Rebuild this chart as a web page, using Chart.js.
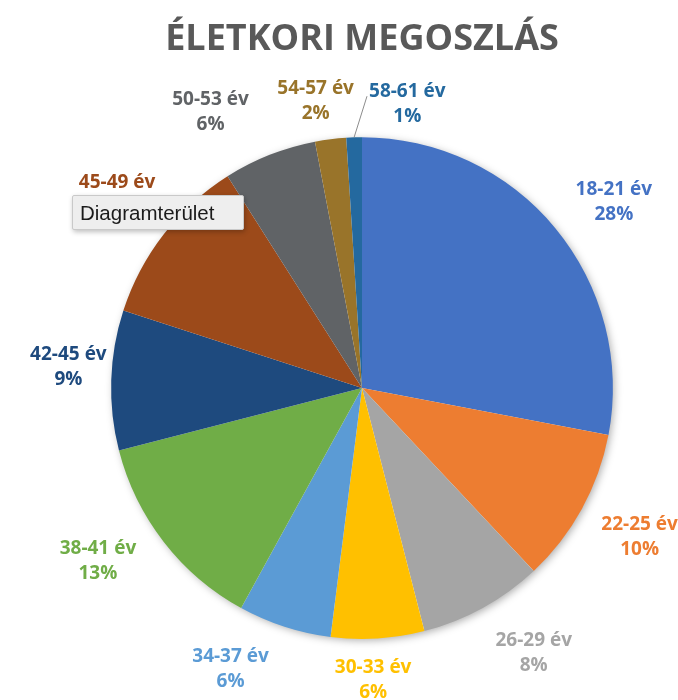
<!DOCTYPE html>
<html>
<head>
<meta charset="utf-8">
<script src="https://cdn.jsdelivr.net/npm/chart.js@4.4.1/dist/chart.umd.min.js"></script>
<style>
  body { margin: 0; background: #fff; }
  #wrap { position: relative; width: 678px; height: 700px; }
  #tip {
    position: absolute; left: 72px; top: 195px; width: 163px; height: 33px;
    background: #eeeeee; border: 1px solid #c9c9c9; border-radius: 2px;
    box-shadow: 1px 2px 5px rgba(0,0,0,0.25);
    font: 20.5px "Liberation Sans", Arial, sans-serif; color: #1b1b1b;
    line-height: 34px; padding-left: 7px; box-sizing: content-box; white-space: nowrap;
  }
</style>
</head>
<body>
<div id="wrap">
  <canvas id="pie"></canvas>
  <div id="tip">Diagramterület</div>
</div>
<script>
// korcsoportok és arányuk (%)
const ageGroups = ["18-21 év", "22-25 év", "26-29 év", "30-33 év", "34-37 év", "38-41 év",
                   "42-45 év", "45-49 év", "50-53 év", "54-57 év", "58-61 év"];
const shares = [28, 10, 8, 6, 6, 13, 9, 11, 6, 2, 1];
const sliceColors = ["#4472C4", "#ED7D31", "#A5A5A5", "#FFC000", "#5B9BD5", "#70AD47",
                     "#1E4A7E", "#9C4A1A", "#606366", "#99742A", "#24699F"];

// címke eltolás (fok, px) - Excel "best fit" utánzása
const labelNudge = [[2.8, 2.4], [-0.9, 4.3], [-4.3, 3.1], [1.4, -6], [7.2, 0], [4.9, 3.2],
                    [2.7, -3.2], [0.8, 0.9], [-7, 6.4], [-1.9, -7.4], [10.8, -11]];

// árnyék a kör alatt
const pieShadow = {
  id: "pieShadow",
  beforeDatasetsDraw(chart) {
    const arc = chart.getDatasetMeta(0).data[0];
    if (!arc) return;
    const ctx = chart.ctx;
    ctx.save();
    ctx.shadowColor = "rgba(0,0,0,0.35)";
    ctx.shadowBlur = 8;
    ctx.shadowOffsetX = 2;
    ctx.shadowOffsetY = 2;
    ctx.fillStyle = "#fff";
    ctx.beginPath();
    ctx.arc(arc.x, arc.y, arc.outerRadius - 1, 0, Math.PI * 2);
    ctx.fill();
    ctx.restore();
  }
};

// külső adatcímkék
const outLabels = {
  id: "outLabels",
  afterDatasetsDraw(chart) {
    const ctx = chart.ctx;
    const meta = chart.getDatasetMeta(0);
    const total = shares.reduce((a, b) => a + b, 0);
    ctx.save();
    ctx.font = "bold 19px 'Open Sans'";
    ctx.textAlign = "center";
    ctx.textBaseline = "middle";
    meta.data.forEach((arc, i) => {
      const mid = (arc.startAngle + arc.endAngle) / 2 + Math.PI / 2;
      const n = labelNudge[i] || [0, 0];
      const t = mid + n[0] * Math.PI / 180;
      const d = arc.outerRadius + 44 + 18 * Math.abs(Math.sin(2 * t)) + n[1];
      const x = arc.x + d * Math.sin(t);
      const y = arc.y - d * Math.cos(t) + 2;
      const pct = Math.round(shares[i] / total * 100) + "%";
      if (i === 10) {
        // vezetővonal
        const w = ctx.measureText(ageGroups[i]).width;
        ctx.strokeStyle = "#8c8c8c";
        ctx.lineWidth = 1;
        ctx.beginPath();
        ctx.moveTo(arc.x + arc.outerRadius * Math.sin(mid), arc.y - arc.outerRadius * Math.cos(mid));
        ctx.lineTo(x - w / 2 - 2, y - 8);
        ctx.stroke();
      }
      ctx.fillStyle = sliceColors[i];
      ctx.fillText(ageGroups[i], x, y - 12.5);
      ctx.fillText(pct, x, y + 12.5);
    });
    ctx.restore();
  }
};

document.addEventListener("DOMContentLoaded", () => {
  const ctx = document.getElementById("pie").getContext("2d");
  new Chart(ctx, {
    type: "pie",
    data: {
      labels: ageGroups,
      datasets: [{
        data: shares,
        backgroundColor: sliceColors,
        borderWidth: 0,
        hoverBorderWidth: 0,
        hoverOffset: 0,
        offset: 0
      }]
    },
    options: {
      responsive: true,
      maintainAspectRatio: false,
      animation: false,
      events: [],
      layout: { padding: { left: 111, right: 65, top: 0, bottom: 61 } },
      plugins: {
        legend: { display: false },
        tooltip: { enabled: false },
        title: {
          display: true,
          text: "ÉLETKORI MEGOSZLÁS",
          color: "#595959",
          font: { family: "'Open Sans'", size: 36, weight: "bold", lineHeight: 1.2 },
          padding: { top: 18, bottom: 76 }
        }
      }
    },
    plugins: [pieShadow, outLabels]
  });
});
</script>
</body>
</html>
